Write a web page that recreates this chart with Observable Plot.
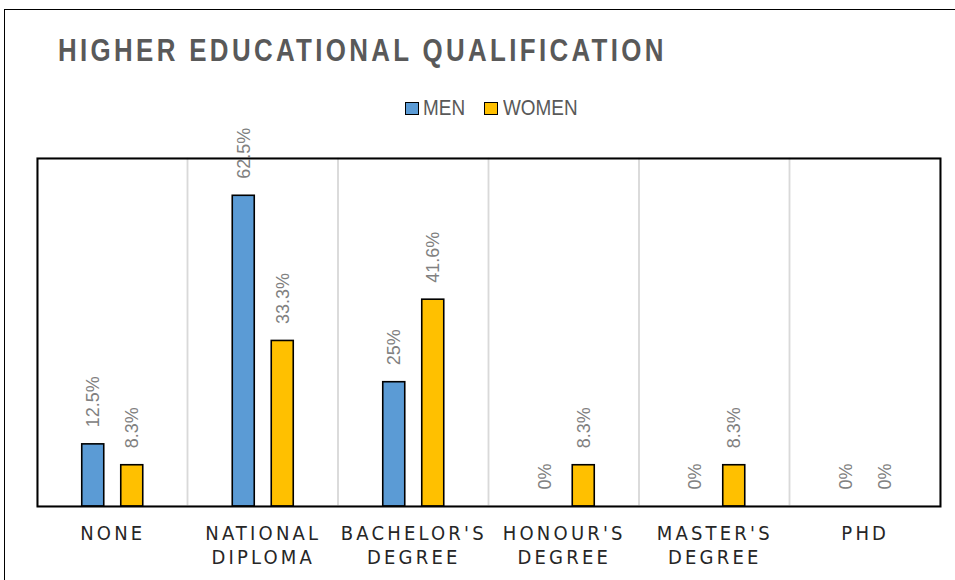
<!DOCTYPE html>
<html>
<head>
<meta charset="utf-8">
<script src="https://cdn.jsdelivr.net/npm/d3@7"></script>
<script src="https://cdn.jsdelivr.net/npm/@observablehq/plot@0.6"></script>
<style>
  html, body { margin: 0; padding: 0; background: #fff; }
  #wrap { position: relative; width: 955px; height: 580px; overflow: hidden; }
  #outer { position: absolute; left: 4px; top: 9px; width: 1000px; height: 700px; border: 1.5px solid #000; box-sizing: border-box; }
  #title { position: absolute; left: 58px; top: 33px; font-family: "Liberation Sans", Arial, sans-serif; font-weight: bold; font-size: 31px; letter-spacing: 4px; color: #595959; white-space: nowrap; transform: scaleX(0.835); transform-origin: 0 0; }
  .lg { position: absolute; font-family: "Liberation Sans", Arial, sans-serif; font-size: 22px; color: #595959; white-space: nowrap; transform: scaleX(0.86); transform-origin: 0 0; top: 95px; }
  .sw { position: absolute; width: 14px; height: 13px; border: 1.5px solid #000; box-sizing: border-box; top: 102px; }
  #chart { position: absolute; left: 0; top: 0; }
  g[aria-label="x-axis tick label"] text { letter-spacing: 3.2px; }
</style>
</head>
<body>
<div id="wrap">
  <div id="outer"></div>
  <div id="chart"></div>
  <div id="title"></div>
  <div id="legend"></div>
</div>
<script>
const titleText = "HIGHER EDUCATIONAL QUALIFICATION";
const categories = ["NONE", "NATIONAL DIPLOMA", "BACHELOR'S DEGREE", "HONOUR'S DEGREE", "MASTER'S DEGREE", "PHD"];
const tickLabels = ["NONE", "NATIONAL\nDIPLOMA", "BACHELOR'S\nDEGREE", "HONOUR'S\nDEGREE", "MASTER'S\nDEGREE", "PHD"];
const seriesNames = ["MEN", "WOMEN"];
const men = [12.5, 62.5, 25, 0, 0, 0];
const women = [8.3, 33.3, 41.6, 8.3, 8.3, 0];
const seriesColors = ["#5b9bd5", "#ffc000"];

const rows = [];
categories.forEach((c, i) => {
  rows.push({category: c, series: "MEN", value: men[i]});
  rows.push({category: c, series: "WOMEN", value: women[i]});
});
const menRows = rows.filter(d => d.series === "MEN");
const womenRows = rows.filter(d => d.series === "WOMEN");

const W = 955, H = 580;
const mL = 37, mR = 15, mT = 158, mB = 74;
const band = (W - mL - mR) / categories.length;
const barW = 22, off = 19.5;
const innerInset = band / 2 - barW / 2 - off;
const outerInset = band / 2 - barW / 2 + off;

const labelFont = "'Liberation Sans', Arial, sans-serif";

const plot = Plot.plot({
  width: W,
  height: H,
  marginLeft: mL,
  marginRight: mR,
  marginTop: mT,
  marginBottom: mB,
  style: {background: "transparent", overflow: "visible"},
  x: {domain: categories, padding: 0, round: false, axis: null, label: null},
  y: {domain: [0, 70], axis: null},
  marks: [
    Plot.barY(categories, {x: d => d, y1: 0, y2: 70, fill: "none", stroke: "#d9d9d9", strokeWidth: 1.5}),
    Plot.barY(menRows.filter(d => d.value > 0), {x: "category", y: "value", fill: seriesColors[0], stroke: "#000", strokeWidth: 1.6, insetLeft: innerInset, insetRight: outerInset}),
    Plot.barY(womenRows.filter(d => d.value > 0), {x: "category", y: "value", fill: seriesColors[1], stroke: "#000", strokeWidth: 1.6, insetLeft: outerInset, insetRight: innerInset}),
    Plot.text(menRows, {x: "category", y: "value", text: d => d.value + "%", rotate: -90, textAnchor: "start", dx: -off, dy: -17, fill: "#808080", fontSize: 18, fontFamily: labelFont}),
    Plot.text(womenRows, {x: "category", y: "value", text: d => d.value + "%", rotate: -90, textAnchor: "start", dx: off, dy: -17, fill: "#808080", fontSize: 18, fontFamily: labelFont}),
    Plot.frame({stroke: "#000", strokeWidth: 2}),
    Plot.axisX({
      label: null,
      tickSize: 0,
      tickPadding: 16,
      tickFormat: d => tickLabels[categories.indexOf(d)],
      fontSize: 20,
      lineHeight: 1.22,
      fill: "#262626",
      fontFamily: "'Liberation Sans Narrow', 'Arial Narrow', 'DejaVu Sans Condensed', sans-serif"
    })
  ]
});
document.getElementById("chart").appendChild(plot);
document.getElementById("title").textContent = titleText;

const leg = document.getElementById("legend");
const swatchX = [405, 484];
const textX = [423, 503];
seriesNames.forEach((s, i) => {
  const sw = document.createElement("div");
  sw.className = "sw";
  sw.style.left = swatchX[i] + "px";
  sw.style.background = seriesColors[i];
  leg.appendChild(sw);
  const t = document.createElement("div");
  t.className = "lg";
  t.style.left = textX[i] + "px";
  t.textContent = s;
  leg.appendChild(t);
});
</script>
</body>
</html>
